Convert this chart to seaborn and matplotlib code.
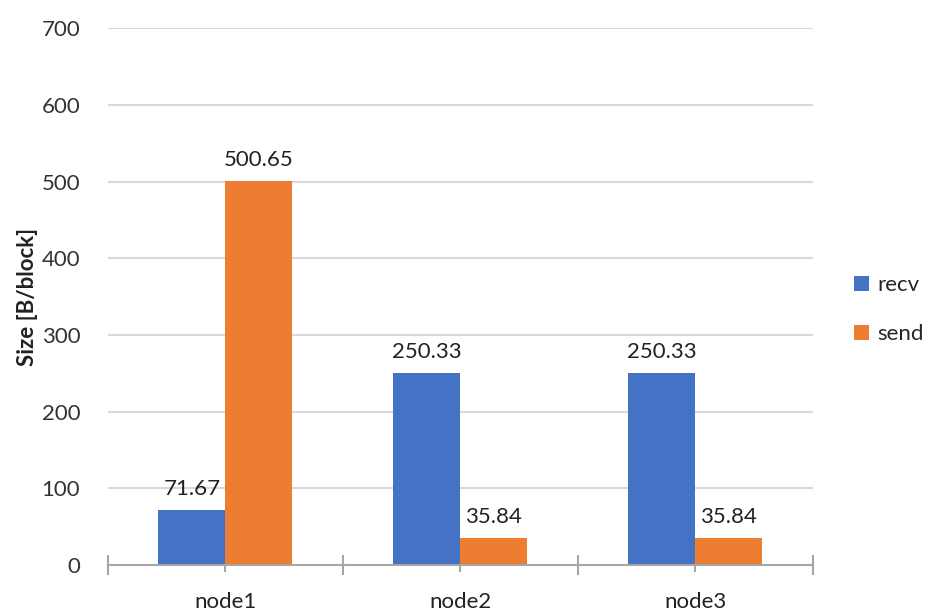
import matplotlib
matplotlib.use("Agg")
import matplotlib.pyplot as plt
import seaborn as sns
import pandas as pd
from matplotlib.patches import Patch

nodes = ["node1", "node2", "node3"]
recv = [71.67, 250.33, 250.33]
send = [500.65, 35.84, 35.84]
series = ["recv", "send"]
colors = ["#4472C4", "#ED7D31"]
yticks = [0, 100, 200, 300, 400, 500, 600, 700]

df = pd.DataFrame({
    "node": nodes * 2,
    "size": recv + send,
    "series": ["recv"] * len(nodes) + ["send"] * len(nodes),
})

sns.set_theme(style="white")
plt.rcParams["font.family"] = ["Lato", "DejaVu Sans"]

fig = plt.figure(figsize=(9.27, 6.13), dpi=100)
ax = fig.add_axes([0.1165, 0.078, 0.76, 0.876])

sns.barplot(data=df, x="node", y="size", hue="series", hue_order=series,
            palette=colors, width=0.57, saturation=1, ax=ax, legend=False,
            edgecolor="none", linewidth=0)

for cont in ax.containers:
    ax.bar_label(cont, labels=[f"{v:.2f}" for v in cont.datavalues],
                 padding=8, fontsize=16, color="#222222")

ax.set_ylim(0, 700)
ax.set_xlim(-0.5, 2.5)
ax.set_yticks(yticks)
ax.set_yticklabels([str(t) for t in yticks], fontsize=16, color="#333333")
ax.yaxis.grid(True, color="#d9d9d9", linewidth=1.5)
ax.set_axisbelow(True)
ax.tick_params(axis="y", length=0, pad=20)

# category axis: boundary ticks crossing the axis, short centre ticks below
ax.set_xticks([0, 1, 2])
ax.set_xticklabels(nodes, fontsize=16, color="#222222")
ax.set_xticks([-0.5, 0.5, 1.5, 2.5], minor=True)
ax.tick_params(axis="x", which="major", length=5, width=1.5, color="#a6a6a6",
               direction="out", pad=14, bottom=True)
ax.tick_params(axis="x", which="minor", length=14, width=1.5, color="#a6a6a6",
               direction="inout", bottom=True)

for s in ["top", "right", "left"]:
    ax.spines[s].set_visible(False)
ax.spines["bottom"].set_color("#a6a6a6")
ax.spines["bottom"].set_linewidth(1.5)

ax.set_xlabel("")
ax.set_ylabel("Size [B/block]", fontsize=16, fontweight="bold", color="#222222")
ax.yaxis.set_label_coords(-0.1, 0.5)

handles = [Patch(facecolor=c, edgecolor="none") for c in colors]
fig.legend(handles, series, loc="center left", bbox_to_anchor=(0.9, 0.495),
           frameon=False, fontsize=16, handlelength=0.65, handleheight=0.65,
           handletextpad=0.4, labelspacing=1.3)

fig.savefig("out.png", dpi=100)
